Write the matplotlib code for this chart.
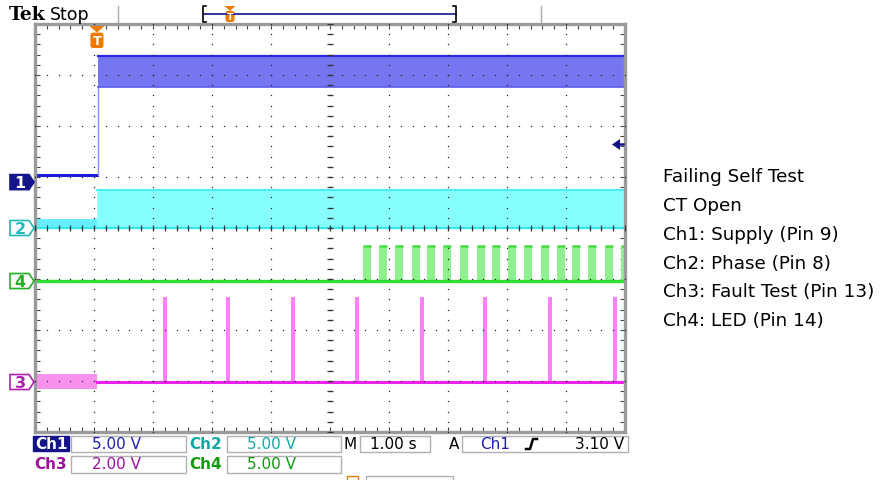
import matplotlib
matplotlib.use('Agg')
import matplotlib.pyplot as plt
from matplotlib.patches import Polygon, Rectangle, FancyBboxPatch
from matplotlib.ticker import MultipleLocator
import numpy as np

W, H = 888, 481

# scope settings
time_div = 1.00                                   # s/div
ch_scale = {1: 5.0, 2: 5.0, 3: 2.0, 4: 5.0}       # V/div
ch_offset = {1: 0.90, 2: 0.0, 3: -3.02, 4: -1.04}  # ground marker, div from centre
trig_t = -3.95                                    # s, relative to screen centre
trig_level = 3.10

# traces (volts)
ch1_before = 0.70
ch1_band = (9.30, 12.35)
ch2_before = (-0.05, 0.90)
ch2_band = (-0.10, 3.72)
ch3_before = (-0.27, 0.30)
ch3_spike_t = [-2.83, -1.76, -0.66, 0.42, 1.53, 2.59, 3.69, 4.80]
ch3_spike_v = 3.33
ch3_spike_w = 0.07
ch4_pulse_t = [0.56, 0.83, 1.10, 1.39, 1.64, 1.92, 2.20, 2.49, 2.75,
               3.02, 3.29, 3.58, 3.85, 4.10, 4.37, 4.66, 4.93]
ch4_pulse_v = 3.43
ch4_pulse_w = 0.135

notes = ["Failing Self Test", "CT Open", "Ch1: Supply (Pin 9)",
         "Ch2: Phase (Pin 8)", "Ch3: Fault Test (Pin 13)", "Ch4: LED (Pin 14)"]

# screen area in pixels
AX_L, AX_R, AX_T, AX_B = 35, 625, 25, 433
div_w = (AX_R - AX_L) / 10.0
div_h = (AX_B - AX_T) / 8.0

def dv(ch, v):
    return ch_offset[ch] + v / ch_scale[ch]

def px_x(t):
    return AX_L + (t / time_div + 5) * div_w

def px_y(d):
    return (AX_T + AX_B) / 2.0 - d * div_h

fig = plt.figure(figsize=(W / 100, H / 100), dpi=100)
ax = fig.add_axes([AX_L / W, 1 - AX_B / H, (AX_R - AX_L) / W, (AX_B - AX_T) / H])
ax.set_xlim(-5 * time_div, 5 * time_div)
ax.set_ylim(-4, 4)
t0, t1 = -5 * time_div, 5 * time_div

# Ch1 supply
ax.plot([t0, trig_t], [dv(1, ch1_before)] * 2, color='#1c1cd8', lw=2.2, zorder=2)
ax.plot([trig_t + 0.02] * 2, [dv(1, ch1_before), dv(1, ch1_band[0])], color='#8c8cff', lw=1, zorder=2)
ax.fill_between([trig_t + 0.02, t1], dv(1, ch1_band[0]), dv(1, ch1_band[1]),
                color='#7676f0', lw=0, zorder=2)
ax.plot([trig_t + 0.02, t1], [dv(1, ch1_band[1])] * 2, color='#2a2ae0', lw=1.6, zorder=2)
ax.plot([trig_t + 0.02, t1], [dv(1, ch1_band[0])] * 2, color='#5a5aea', lw=1.2, zorder=2)

# Ch2 phase
ax.fill_between([t0, trig_t], dv(2, ch2_before[0]), dv(2, ch2_before[1]),
                color='#66eeff', lw=0, zorder=2)
ax.fill_between([trig_t, t1], dv(2, ch2_band[0]), dv(2, ch2_band[1]),
                color='#88ffff', lw=0, zorder=2)
ax.plot([trig_t, t1], [dv(2, ch2_band[1])] * 2, color='#44eef8', lw=1.4, zorder=2)
ax.plot([t0, t1], [dv(2, 0)] * 2, color='#33e8f0', lw=1.6, zorder=2)

# Ch4 LED
p4 = np.array(ch4_pulse_t)
ax.bar(p4, ch4_pulse_v / ch_scale[4], width=ch4_pulse_w, bottom=ch_offset[4],
       align='edge', color='#8ef08e', lw=0, zorder=2)
ax.hlines(np.full(p4.size, dv(4, ch4_pulse_v)), p4, p4 + ch4_pulse_w,
          color='#44dd44', lw=1.8, zorder=2)
ax.plot([t0, t1], [dv(4, 0)] * 2, color='#2fe02f', lw=2.4, zorder=2)

# Ch3 fault test
ax.fill_between([t0, trig_t], dv(3, ch3_before[0]), dv(3, ch3_before[1]),
                color='#f890f0', lw=0, zorder=2)
ax.bar(ch3_spike_t, ch3_spike_v / ch_scale[3], width=ch3_spike_w, bottom=ch_offset[3],
       align='edge', color='#ff80ff', lw=0, zorder=2)
ax.plot([trig_t, t1], [dv(3, 0)] * 2, color='#ee22ee', lw=2.2, zorder=2)

# graticule
minor = np.arange(-4, 4.01, 0.2)
for gx in range(-4, 5):
    ax.plot(np.full(minor.size, gx * time_div), minor, ls='none', marker='s', ms=0.9,
            mew=0, color='#222222', zorder=3)
minx = np.arange(-5, 5.01, 0.2) * time_div
for gy in range(-3, 4):
    ax.plot(minx, np.full(minx.size, gy), ls='none', marker='s', ms=0.9,
            mew=0, color='#222222', zorder=3)
ax.plot(np.zeros(minor.size), minor, ls='none', marker='_', ms=4.5, mew=0.9, color='#333333', zorder=3)
ax.plot(minx, np.zeros(minx.size), ls='none', marker='|', ms=4.5, mew=0.9, color='#333333', zorder=3)

ax.xaxis.set_major_locator(MultipleLocator(time_div))
ax.xaxis.set_minor_locator(MultipleLocator(0.2 * time_div))
ax.yaxis.set_major_locator(MultipleLocator(1))
ax.yaxis.set_minor_locator(MultipleLocator(0.2))
ax.tick_params(which='both', direction='in', top=True, right=True, length=3.5, width=0.8,
               color='#444444', labelbottom=False, labelleft=False)
for s in ax.spines.values():
    s.set_color('#9a9a9a')
    s.set_linewidth(2.4)

# overlay in pixel coords for the scope UI
ov = fig.add_axes([0, 0, 1, 1])
ov.set_xlim(0, W)
ov.set_ylim(H, 0)
ov.axis('off')

ORANGE = '#f07a00'
NAVY = '#14148a'

def t_marker(x, ytop, w, h):
    ov.add_patch(Polygon([[x - w / 2, ytop], [x + w / 2, ytop], [x, ytop + h * 0.3]],
                         closed=True, color=ORANGE, lw=0))
    ov.add_patch(FancyBboxPatch((x - w / 2 + 1, ytop + h * 0.3), w - 2, h * 0.7,
                                boxstyle='round,pad=0,rounding_size=2.5', color=ORANGE, lw=0))
    ov.text(x, ytop + h * 0.65, 'T', color='white', fontsize=h * 0.42, fontweight='bold',
            ha='center', va='center', family='DejaVu Sans')

# header
ov.text(9, 20.5, 'Tek', fontsize=13.5, fontweight='bold', family='DejaVu Serif', va='baseline')
ov.text(50, 20, 'Stop', fontsize=12.5, family='DejaVu Sans', va='baseline')
ov.plot([118, 118], [7, 23], color='#aaaaaa', lw=1)
ov.plot([541, 541], [7, 23], color='#aaaaaa', lw=1)
ov.plot([204, 456], [15, 15], color=NAVY, lw=1.2)
ov.plot([206, 203, 203, 206], [7, 7, 23, 23], color='black', lw=1.2)
ov.plot([453, 456, 456, 453], [7, 7, 23, 23], color='black', lw=1.2)
t_marker(230, 7, 11, 16)
t_marker(px_x(trig_t), 27, 15, 22)

# trigger level arrow
ly = px_y(dv(1, trig_level)) - 6
ov.add_patch(Polygon([[612, ly], [620, ly - 5.5], [620, ly + 5.5]], closed=True, color=NAVY, lw=0))
ov.plot([619, 623], [ly, ly], color=NAVY, lw=1.8)

# channel ground markers
def ch_marker(n, col, filled):
    yc = px_y(ch_offset[n])
    pts = [[10, yc - 7.5], [29, yc - 7.5], [34, yc], [29, yc + 7.5], [10, yc + 7.5]]
    ov.add_patch(Polygon(pts, closed=True, facecolor=col if filled else 'white',
                         edgecolor=col, lw=1.2))
    ov.text(20, yc + 0.5, str(n), color='white' if filled else col, fontsize=11.5,
            fontweight='bold', ha='center', va='center', family='DejaVu Sans')

ch_marker(1, NAVY, True)
ch_marker(2, '#20b8b8', False)
ch_marker(4, '#22b022', False)
ch_marker(3, '#b020b0', False)

# readouts
def box(x0, x1, y0, y1, fc='white', ec='#b0b0b0'):
    ov.add_patch(Rectangle((x0, y0), x1 - x0, y1 - y0, facecolor=fc, edgecolor=ec, lw=1))

RF = dict(fontsize=11, family='DejaVu Sans', va='center')
r1, r2 = 444.5, 465
box(33, 69, 437, 452, fc=NAVY, ec=NAVY)
ov.text(51, r1, 'Ch1', color='white', ha='center', fontweight='bold', **RF)
box(71, 186, 437, 453)
ov.text(92, r1, '%.2f V' % ch_scale[1], color='#1e1eb4', ha='left', **RF)
ov.text(206, r1, 'Ch2', color='#12a8a8', ha='center', fontweight='bold', **RF)
box(227, 341, 437, 453)
ov.text(247, r1, '%.2f V' % ch_scale[2], color='#12a8a8', ha='left', **RF)
ov.text(350, r1, 'M', color='black', ha='center', **RF)
box(360, 430, 437, 453)
ov.text(370, r1, '%.2f s' % time_div, color='black', ha='left', **RF)
ov.text(454, r1, 'A', color='black', ha='center', **RF)
box(462, 628, 437, 453)
ov.text(495, r1, 'Ch1', color='#1e1eb4', ha='center', **RF)
ov.plot([526, 530, 533, 537], [450, 450, 440, 440], color='black', lw=1.8)
ov.text(624, r1, '%.2f V' % trig_level, color='black', ha='right', **RF)

ov.text(51, r2, 'Ch3', color='#a010a0', ha='center', fontweight='bold', **RF)
box(71, 186, 457, 474)
ov.text(92, r2, '%.2f V' % ch_scale[3], color='#a010a0', ha='left', **RF)
ov.text(206, r2, 'Ch4', color='#119911', ha='center', fontweight='bold', **RF)
box(227, 341, 457, 474)
ov.text(247, r2, '%.2f V' % ch_scale[4], color='#119911', ha='left', **RF)
box(347, 358, 477, 486, ec=ORANGE)
box(366, 453, 477, 486)

# notes on the right
for i, s in enumerate(notes):
    ov.text(663, 182.5 + i * 28.7, s, fontsize=13.2, family='DejaVu Sans', va='baseline')

fig.savefig('out.png', dpi=100)
